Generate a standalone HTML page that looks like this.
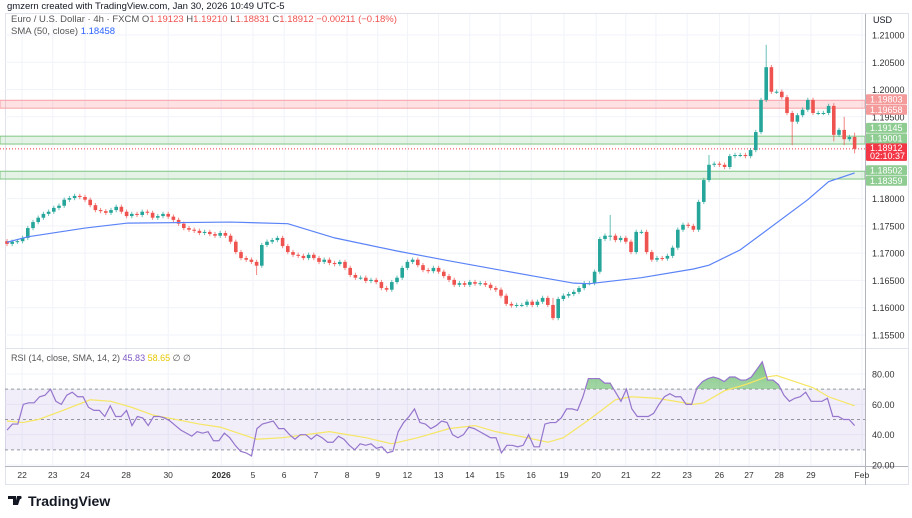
<!DOCTYPE html>
<html><head><meta charset="utf-8">
<style>
body{margin:0;background:#fff;width:912px;height:513px;overflow:hidden;font-family:"Liberation Sans",sans-serif;}
svg text{font-family:"Liberation Sans",sans-serif;}
</style></head>
<body>
<svg id="c" width="912" height="513" viewBox="0 0 912 513" xmlns="http://www.w3.org/2000/svg">
<text x="7" y="9" font-size="9.5" fill="#131722">gmzern created with TradingView.com, Jan 30, 2026 10:49 UTC-5</text>
<rect x="5.5" y="13.5" width="903" height="471" fill="none" stroke="#e0e3eb"/>
<g id="grid"></g>
<g id="zones"></g>
<g id="main"></g>
<g id="rsi"></g>
<g id="axes"></g>
<text x="11" y="22" font-size="9.5" fill="#555">Euro / U.S. Dollar · 4h · FXCM  O<tspan fill="#ef5350">1.19123</tspan>  H<tspan fill="#ef5350">1.19210</tspan>  L<tspan fill="#ef5350">1.18831</tspan>  C<tspan fill="#ef5350">1.18912</tspan>  <tspan fill="#ef5350">−0.00211 (−0.18%)</tspan></text>
<text x="11" y="34" font-size="9.5" fill="#555">SMA (50, close)  <tspan fill="#2962ff">1.18458</tspan></text>
<text x="11" y="361" font-size="9" fill="#555">RSI (14, close, SMA, 14, 2)  <tspan fill="#7e57c2">45.83</tspan>  <tspan fill="#e6c700">58.65</tspan>  ∅  ∅</text>
<text x="873" y="23" font-size="9" fill="#131722">USD</text>
<g>
<path d="M8 496h8v9h-3v-6h-5z M17 496h4l-3 9h-3z" fill="#131722"/>
<circle cx="20" cy="497.5" r="1.6" fill="#131722"/>
<text x="28" y="506" font-size="14" font-weight="bold" fill="#131722">TradingView</text>
</g>
</svg>
<script>
const closes=[1.1717,1.1721,1.1722,1.1728,1.1746,1.1757,1.1765,1.1772,1.1776,1.1783,1.1787,1.1798,1.1801,1.1805,1.1803,1.1798,1.1788,1.1779,1.1777,1.1774,1.1779,1.1785,1.1776,1.1768,1.1772,1.1770,1.1776,1.1774,1.1765,1.1768,1.1772,1.1767,1.1761,1.1754,1.1746,1.1743,1.1741,1.1737,1.1739,1.1735,1.1732,1.1737,1.1732,1.1721,1.1702,1.1691,1.1688,1.1684,1.1677,1.1715,1.1721,1.1724,1.1728,1.1713,1.1702,1.1697,1.1695,1.1691,1.1697,1.1691,1.1684,1.1688,1.1682,1.1680,1.1684,1.1673,1.1660,1.1655,1.1655,1.1649,1.1651,1.1647,1.1636,1.1633,1.1647,1.1655,1.1673,1.1684,1.1688,1.1678,1.1669,1.1667,1.1673,1.1666,1.1658,1.1651,1.1642,1.1645,1.1642,1.1647,1.1644,1.1645,1.1642,1.1636,1.1633,1.1622,1.1607,1.1604,1.1605,1.1605,1.1611,1.1605,1.1611,1.1618,1.1605,1.1581,1.1616,1.1622,1.1625,1.1629,1.1636,1.1645,1.1645,1.1666,1.1726,1.1732,1.1732,1.1724,1.1728,1.1721,1.1702,1.1739,1.1739,1.1702,1.1688,1.1691,1.1690,1.1695,1.1710,1.1743,1.1752,1.1750,1.1743,1.1794,1.1834,1.1862,1.1864,1.1862,1.1858,1.1878,1.1880,1.1880,1.1878,1.1889,1.1922,1.1981,1.2041,1.1996,1.1996,1.1986,1.1957,1.1941,1.1953,1.1963,1.1981,1.1957,1.1957,1.1957,1.1970,1.1917,1.1926,1.1909,1.1913,1.18912];
const firstOpen=1.1722;
const wickIdx=[48,105,116,134,135,146,151,159,161,163];
const wickHigh=[1.1680,1.1618,1.1770,1.1836,1.1880,1.2082,1.1960,1.1975,1.1950,1.1921];
const wickLow=[1.1660,1.1578,1.1723,1.1823,1.1833,1.1990,1.1898,1.1905,1.1898,1.1883];
const smaIdx=[0,4,15,23,43,54,63,75,85,96,103,109,112,122,132,135,141,154,158,163];
const smaVal=[1.1720,1.1730,1.1746,1.1755,1.1757,1.1754,1.1728,1.1704,1.1686,1.1667,1.1655,1.1645,1.1644,1.1655,1.1671,1.1678,1.1706,1.1798,1.1831,1.1847];
const rsiVals=[43,47,47,60,61,61,65,66,70,62,60,66,68,65,65,58,56,56,52,59,52,52,56,46,52,51,46,52,52,51,49,46,43,41,39,42,41,42,36,36,41,38,33,29,28,26,44,47,48,49,44,44,40,37,40,40,37,40,38,35,35,39,37,33,30,34,33,34,31,32,28,29,42,48,52,57,48,47,44,46,49,48,40,38,40,45,44,42,40,38,38,28,33,33,32,33,40,32,32,47,48,48,51,57,57,56,65,77,77,77,74,74,68,62,70,57,52,52,52,54,60,65,67,65,65,60,60,71,75,77,78,77,75,78,78,76,76,78,83,88,76,76,73,66,62,64,65,68,62,62,62,64,52,52,50,50,46];
const rsiMaIdx=[0,3,6,10,16,20,24,28,37,41,48,53,62,69,74,79,85,90,94,100,104,107,112,117,120,125,132,134,138,142,146,148,155,158,163];
const rsiMaVal=[49,48,50,55,63,62,58,53,47,45,37,38,42,38,34,38,44,46,42,38,35,38,50,63,65,64,60,61,69,73,78,79,71,65,59];
const priceTicks=[1.21,1.205,1.2,1.195,1.19,1.185,1.18,1.175,1.17,1.165,1.16,1.155];
const priceTickLabels=["1.21000","1.20500","1.20000","1.19500","1.19000","1.18500","1.18000","1.17500","1.17000","1.16500","1.16000","1.15500"];
const dayLabels=["22","23","24","28","30","2026","5","6","7","8","9","12","13","14","15","16","19","20","21","22","23","26","27","28","29","Feb"];
const dayIdx=[2.9,8.8,15,22.9,31,41.2,47.3,53.3,59.4,65.4,71.3,77,83,89,94.8,100.8,107.1,113.3,119,124.8,130.8,137,142.7,148.5,154.6,164.4];
const zoneTop=[1.19803,1.19145,1.18502];
const zoneBot=[1.19658,1.19001,1.18359];
const zoneKind=["res","sup","sup"];
const rsiTicks=[80,60,40,20];
const rsiBands=[70,50,30];
const lastPrice=1.18912, countdown="02:10:37";

const NS="http://www.w3.org/2000/svg";
function mk(p,t,a){const e=document.createElementNS(NS,t);for(const k in a)e.setAttribute(k,a[k]);p.appendChild(e);return e;}
const PW=865;
const xOf=i=>7+i*5.2;
const yP=p=>35+(1.21-p)/0.005*27.27;
const yR=v=>374+(80-v)*1.517;
const G=document.getElementById('grid'),Z=document.getElementById('zones'),M=document.getElementById('main'),R=document.getElementById('rsi'),A=document.getElementById('axes');

priceTicks.forEach(p=>{const l=mk(G,'line',{x1:5,x2:PW,y1:yP(p),y2:yP(p),stroke:'#f0f3fa'});

});
rsiTicks.forEach(v=>{const l=mk(G,'line',{x1:5,x2:PW,y1:yR(v),y2:yR(v),stroke:'#f0f3fa'});

});
dayIdx.forEach(i=>{const l=mk(G,'line',{x1:xOf(i),x2:xOf(i),y1:14,y2:466,stroke:'#f0f3fa'});

});

zoneTop.forEach((t,k)=>{const res=zoneKind[k]==='res';
const r=mk(Z,'rect',{x:0,y:yP(t),width:PW,height:yP(zoneBot[k])-yP(t),fill:res?'rgba(242,54,69,0.15)':'rgba(76,175,80,0.15)',stroke:res?'#f7a1a8':'#81c784','stroke-width':1});

});
const pl=mk(Z,'line',{x1:0,x2:PW,y1:yP(lastPrice),y2:yP(lastPrice),stroke:'#f23645','stroke-dasharray':'1,2','stroke-width':1});



closes.forEach((c,i)=>{const o=i?closes[i-1]:firstOpen;const up=c>=o;const col=up?'#26a69a':'#ef5350';
let hi=Math.max(o,c)+0.0004,lo=Math.min(o,c)-0.0004;const w=wickIdx.indexOf(i);if(w>=0){hi=Math.max(hi,wickHigh[w]);lo=Math.min(lo,wickLow[w]);}
const x=xOf(i);
const wk=mk(M,'line',{x1:x,x2:x,y1:yP(hi),y2:yP(lo),stroke:col,'stroke-width':1,opacity:0.7});


const y1=yP(Math.max(o,c)),y2=yP(Math.min(o,c));
const b=mk(M,'rect',{x:x-1.8,y:y1,width:3.6,height:Math.max(1,y2-y1),fill:col});

});
const sp=mk(M,'polyline',{points:smaIdx.map((i,k)=>xOf(i)+','+yP(smaVal[k])).join(' '),fill:'none',stroke:'#5b83f7','stroke-width':1.2});



mk(A,'line',{x1:5,x2:908,y1:348.5,y2:348.5,stroke:'#e0e3eb'});
const band=mk(R,'rect',{x:5,y:yR(70),width:PW-5,height:yR(30)-yR(70),fill:'rgba(126,87,194,0.1)'});


rsiBands.forEach(v=>{const l=mk(R,'line',{x1:5,x2:PW,y1:yR(v),y2:yR(v),stroke:'#9598a1','stroke-dasharray':'3,3'});

});
const N=rsiVals.length;const rx=k=>xOf(k*(closes.length-1)/(N-1));
const pts=rsiVals.map((v,k)=>rx(k)+','+yR(v));
const defs=mk(R,'defs',{});
const cp=mk(defs,'clipPath',{id:'ob'});mk(cp,'rect',{x:0,y:340,width:PW,height:yR(70)-340});
const lg=mk(defs,'linearGradient',{id:'gg',x1:0,y1:0,x2:0,y2:1});
mk(lg,'stop',{offset:0,'stop-color':'#4caf50','stop-opacity':0.7});mk(lg,'stop',{offset:1,'stop-color':'#4caf50','stop-opacity':0.05});
const ob=mk(R,'polygon',{points:rx(0)+','+yR(70)+' '+pts.join(' ')+' '+rx(N-1)+','+yR(70),fill:'url(#gg)','clip-path':'url(#ob)'});


const rm=mk(R,'polyline',{points:rsiMaIdx.map((i,k)=>xOf(i)+','+yR(rsiMaVal[k])).join(' '),fill:'none',stroke:'#f5e663','stroke-width':1.2});


const rl=mk(R,'polyline',{points:pts.join(' '),fill:'none',stroke:'#9575cd','stroke-width':1.2});



mk(A,'line',{x1:865.5,x2:865.5,y1:14,y2:485,stroke:'#b2b5be'});
mk(A,'line',{x1:5,x2:908,y1:466.5,y2:466.5,stroke:'#b2b5be'});
priceTicks.forEach((p,k)=>{const t=mk(A,'text',{x:872,y:yP(p)+3.5,'font-size':9,fill:'#333'});t.textContent=priceTickLabels[k];

});
rsiTicks.forEach(v=>{const t=mk(A,'text',{x:872,y:yR(v)+3.5,'font-size':9,fill:'#333'});t.textContent=v.toFixed(2);

});
dayLabels.forEach((s,k)=>{const t=mk(A,'text',{x:xOf(dayIdx[k]),y:478,'font-size':8.5,fill:'#333','text-anchor':'middle','font-weight':s==='2026'?'bold':'normal'});t.textContent=s;

});
function tag(cy,txt,bg,h){const g=mk(A,'g',{});


mk(g,'rect',{x:866,y:cy-5,width:41,height:h||10,fill:bg,rx:1});const t=mk(g,'text',{x:870,y:cy+3.2,'font-size':9,fill:'#fff'});t.textContent=txt;return g;}
// current price box
const boxTop=yP(lastPrice)-6,boxBot=boxTop+18;
const cg=tag(boxTop+5,lastPrice.toFixed(5),'#f23645',18);
const ct=mk(cg,'text',{x:870,y:boxTop+16,'font-size':9,fill:'#fff'});ct.textContent=countdown;
zoneTop.forEach((t,k)=>{const res=zoneKind[k]==='res';const bg=res?'#f49a9a':'#8fcc92';
let c=yP(t)-1;
// avoid overlapping current price box
if(c+15>boxTop && c-5<boxBot){ if(c<yP(lastPrice)) c=boxTop-15; else c=boxBot+5; }
tag(c,t.toFixed(5),bg);tag(c+10.5,zoneBot[k].toFixed(5),bg);});
</script>
</body></html>
